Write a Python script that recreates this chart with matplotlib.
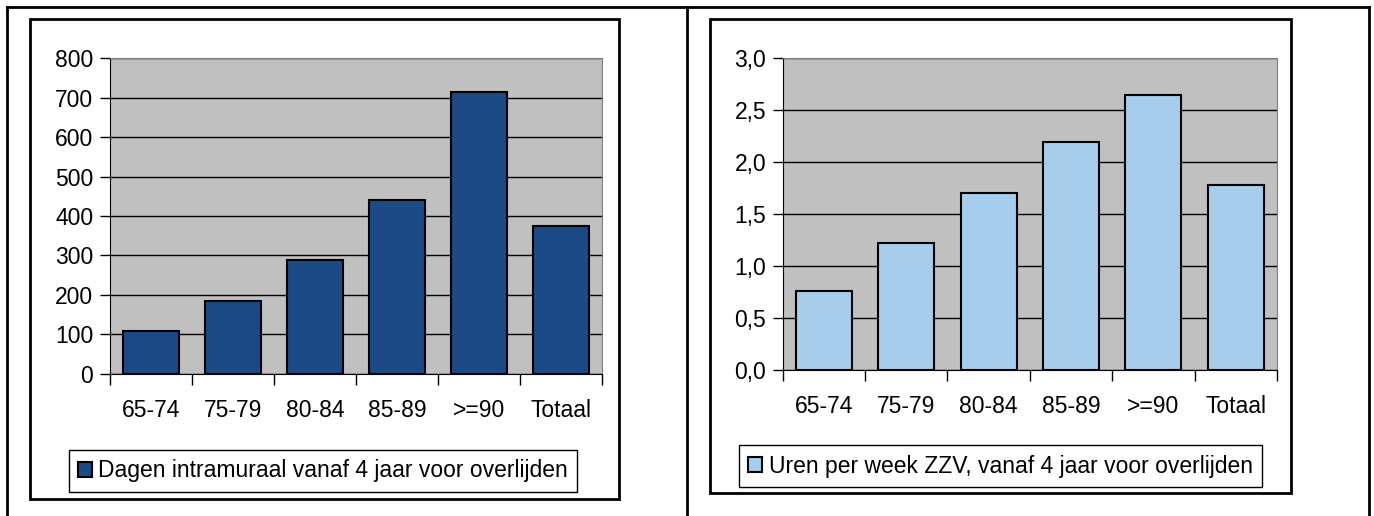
import matplotlib.pyplot as plt
from matplotlib.patches import Rectangle
from matplotlib.lines import Line2D

categories = ["65-74", "75-79", "80-84", "85-89", ">=90", "Totaal"]
dagen = [108, 184, 289, 440, 715, 375]
uren = [0.76, 1.22, 1.70, 2.19, 2.645, 1.78]

dagen_ticks = [0, 100, 200, 300, 400, 500, 600, 700, 800]
uren_ticks = [0.0, 0.5, 1.0, 1.5, 2.0, 2.5, 3.0]
uren_ticklabels = ["0,0", "0,5", "1,0", "1,5", "2,0", "2,5", "3,0"]

label_dagen = "Dagen intramuraal vanaf 4 jaar voor overlijden"
label_uren = "Uren per week ZZV, vanaf 4 jaar voor overlijden"

plt.rcParams['font.family'] = ['Liberation Sans', 'DejaVu Sans']
W, H = 1374, 516
FS = 16.5
fig = plt.figure(figsize=(W / 100, H / 100), dpi=100)


def box(x0, y0, x1, y1):
    # pixel coords from the top-left -> figure fraction
    return [x0 / W, 1 - y1 / H, (x1 - x0) / W, (y1 - y0) / H]


# table borders
for xs, ys in [([7, 1369], [7, 7]), ([7, 7], [7, 516]),
               ([687, 687], [7, 516]), ([1369, 1369], [7, 516])]:
    fig.add_artist(Line2D([x / W for x in xs], [1 - y / H for y in ys],
                          color='black', lw=2))

# chart frames
for b in [box(30, 19, 619, 499), box(710, 19, 1291, 493)]:
    fig.add_artist(Rectangle((b[0], b[1]), b[2], b[3], transform=fig.transFigure,
                             fill=False, edgecolor='black', lw=2))


def draw(rect, values, color, ticks, ticklabels, label, legbox):
    ax = fig.add_axes(rect)
    ax.set_facecolor('#c0c0c0')
    x = list(range(len(values)))
    bars = ax.bar(x, values, width=0.68, color=color, edgecolor='black',
                  linewidth=1.5, zorder=3, label=label)
    ax.set_xlim(-0.5, len(values) - 0.5)
    ax.set_ylim(ticks[0], ticks[-1])
    ax.set_yticks(ticks)
    ax.set_yticklabels(ticklabels, fontsize=FS)
    ax.yaxis.grid(True, color='black', lw=1, zorder=1)
    ax.set_xticks([i - 0.5 for i in range(len(values) + 1)])
    ax.set_xticklabels([])
    ax.set_xticks(x, minor=True)
    ax.set_xticklabels(categories, minor=True, fontsize=FS)
    ax.tick_params(axis='x', which='major', length=8, width=1, direction='out')
    ax.tick_params(axis='x', which='minor', length=0, pad=18)
    ax.tick_params(axis='y', length=7, width=1, pad=5)
    for s in ['top', 'right']:
        ax.spines[s].set_color('#808080')
    for s in ['left', 'bottom']:
        ax.spines[s].set_color('black')
    lx = (legbox[0] + legbox[2]) / 2 / W
    ly = 1 - (legbox[1] + legbox[3]) / 2 / H
    leg = fig.legend(handles=[bars], labels=[label], loc='center',
                     bbox_to_anchor=(lx, ly), fontsize=FS, fancybox=False,
                     edgecolor='black', framealpha=1, handlelength=0.6,
                     handleheight=0.6, handletextpad=0.3, borderpad=0.4,
                     borderaxespad=0)
    leg.get_frame().set_linewidth(1)
    return ax


draw(box(110, 58.3, 602, 373.7), dagen, '#1b4a86', dagen_ticks,
     [str(t) for t in dagen_ticks], label_dagen, (69, 451, 577, 491))
draw(box(782.7, 57.7, 1277, 370), uren, '#a6cdeb', uren_ticks,
     uren_ticklabels, label_uren, (746, 446, 1255, 486))

fig.savefig('out.png', dpi=100)
